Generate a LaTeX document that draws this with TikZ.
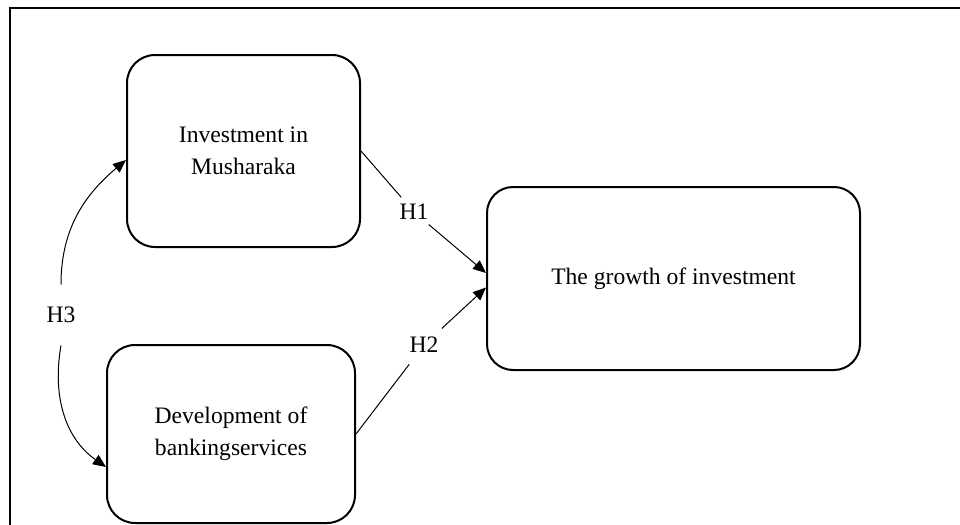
\documentclass[tikz,border=0pt]{standalone}
\usepackage{fontspec}
\setmainfont{Liberation Serif}
\usetikzlibrary{arrows.meta}
\tikzset{
    varbox/.style={draw,line width=1pt,rounded corners=14pt,align=center,
        font=\fontsize{11.8}{16}\selectfont},
    hyp/.style={font=\fontsize{11.8}{16}\selectfont,inner sep=0pt},
    link/.style={line width=0.5pt,-{Triangle[length=6.5pt,width=5.5pt]}},
}
\begin{document}
\begin{tikzpicture}[x=0.5pt,y=-0.5pt]
        %% frame
        \clip (0,0) rectangle (960,525);
        \draw[line width=1.2pt] (10,8) rectangle (975,540);
        %% Three variables
        \node[varbox,minimum width=116.5pt,minimum height=96pt] (mush) at (243.5,151) {Investment in\\Musharaka};
        \node[varbox,minimum width=124pt,minimum height=89pt] (bank) at (231,434) {Development of\\bankingservices};
        \node[varbox,rounded corners=13pt,minimum width=186.5pt,minimum height=91.5pt] (growth) at (673.5,278.5) {The growth of investment};
        %% Labels
        \node[hyp,circle,minimum size=19pt] (h1) at (414,212) {H1};
        \node[hyp,circle,minimum size=24pt] (h2) at (424,345) {H2};
        \node[hyp,minimum width=20pt,minimum height=30pt] (h3) at (61,315) {H3};
        %% Arrows
        \draw[line width=0.5pt] (mush.east) -- (h1);
        \draw[link] (h1) -- ([yshift=2.75pt]growth.west);
        \draw[line width=0.5pt] (bank.east) -- (h2);
        \draw[link] (h2) -- ([yshift=-4.5pt]growth.west);
        \draw[link] (h3.north) to[out=90,in=220] ([yshift=-4.5pt]mush.west);
        \draw[link] (h3.south) to[out=-100,in=145] ([yshift=-16.5pt]bank.west);
    \end{tikzpicture}
\end{document}
